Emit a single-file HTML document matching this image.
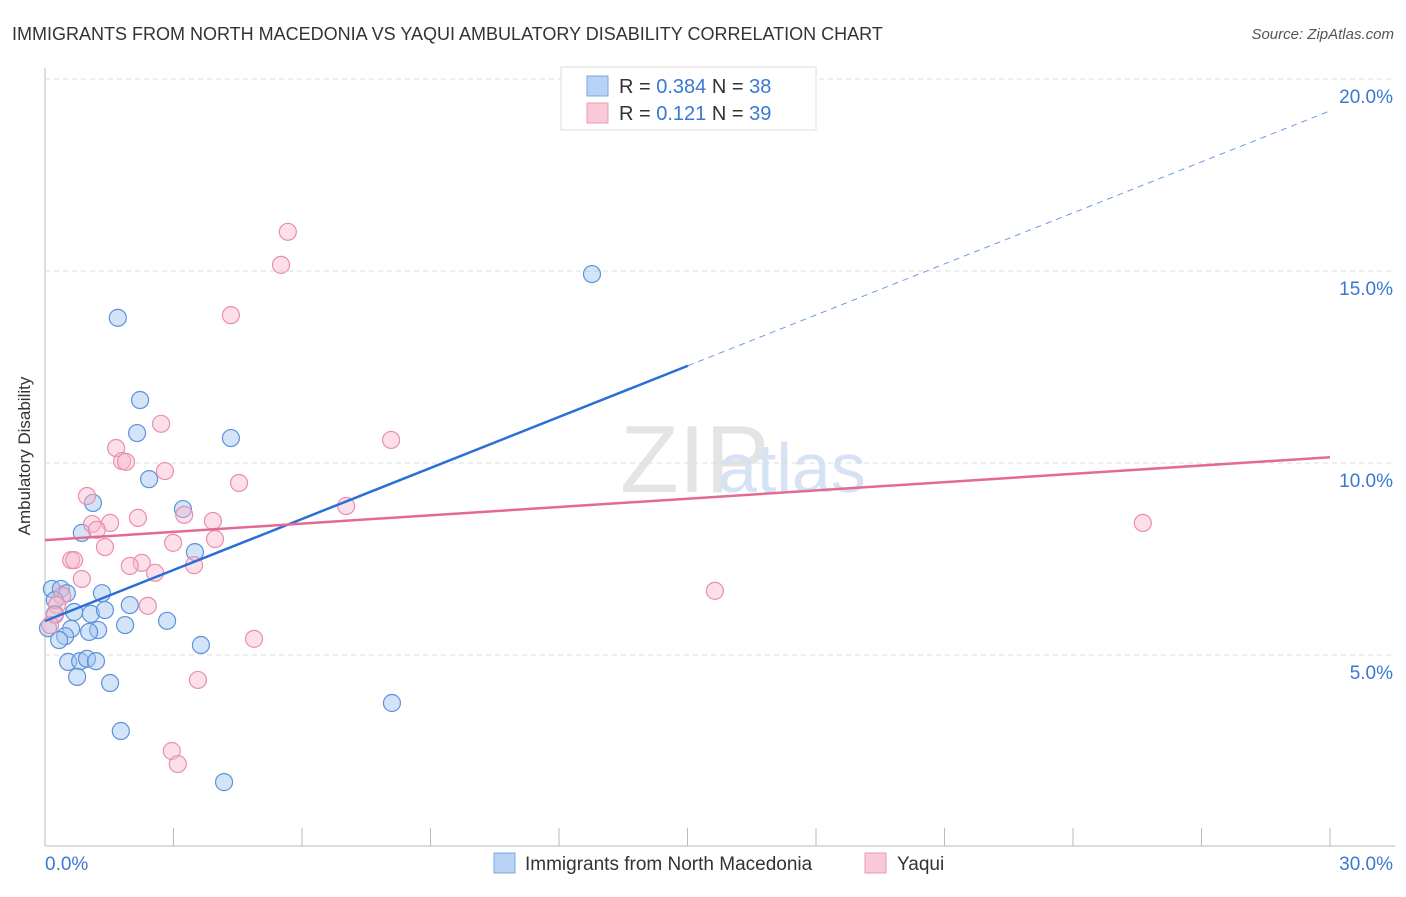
<!DOCTYPE html>
<html><head><meta charset="utf-8"><style>
body{margin:0;background:#fff;font-family:"Liberation Sans",sans-serif;}
svg text{font-family:"Liberation Sans",sans-serif;}
</style></head><body>
<svg id="chart" width="1406" height="892">
<text x="12" y="40" font-size="18" fill="#333">IMMIGRANTS FROM NORTH MACEDONIA VS YAQUI AMBULATORY DISABILITY CORRELATION CHART</text>
<text x="1394" y="39" font-size="15" fill="#555" font-style="italic" text-anchor="end">Source: ZipAtlas.com</text>
<text x="30" y="456" font-size="17" fill="#333" text-anchor="middle" transform="rotate(-90 30 456)">Ambulatory Disability</text>
<text x="620" y="492" font-size="96" fill="#e4e4e4" font-family="Liberation Serif">ZIP</text>
<text x="718" y="492" font-size="70" fill="#d6e3f4">atlas</text>
<g id="grid"></g><g id="pts"></g><g id="lines"></g>
<g>
<rect x="561" y="67" width="255" height="63" fill="#fff" stroke="#ddd"/>
<rect x="587" y="76" width="21" height="20" fill="#b8d3f5" stroke="#7aa7e0"/>
<rect x="587" y="103" width="21" height="20" fill="#f9c9d8" stroke="#eb9ab4"/>
<text x="619" y="93" font-size="20" fill="#333">R = <tspan fill="#3a78d4">0.384</tspan>   N = <tspan fill="#3a78d4">38</tspan></text>
<text x="619" y="120" font-size="20" fill="#333">R =   <tspan fill="#3a78d4">0.121</tspan>   N = <tspan fill="#3a78d4">39</tspan></text>
</g>
<g>
<rect x="494" y="853" width="21" height="20" fill="#b8d3f5" stroke="#7aa7e0"/>
<text x="525" y="870" font-size="19" fill="#333">Immigrants from North Macedonia</text>
<rect x="865" y="853" width="21" height="20" fill="#f9c9d8" stroke="#eb9ab4"/>
<text x="897" y="870" font-size="19" fill="#333">Yaqui</text>
</g>
</svg>
<script>
const blueX=[12.77,1.70,2.22,2.15,4.34,2.43,3.22,1.12,0.86,3.50,0.16,0.37,0.51,1.33,0.23,0.68,1.07,1.40,1.98,1.87,2.85,0.07,0.61,1.24,1.03,0.47,0.33,3.64,0.54,0.82,0.98,1.19,0.75,1.52,8.10,1.77,4.18,0.23];
const blueY=[14.92,13.78,11.64,10.78,10.65,9.58,8.80,8.96,8.18,7.68,6.72,6.72,6.61,6.61,6.07,6.12,6.07,6.17,6.30,5.78,5.89,5.70,5.68,5.65,5.60,5.49,5.39,5.26,4.82,4.84,4.90,4.84,4.43,4.27,3.75,3.02,1.69,6.43];
const pinkX=[5.67,5.51,4.34,2.71,8.08,1.66,1.80,1.89,2.80,4.53,0.98,7.03,3.25,2.17,1.52,1.10,1.21,3.92,1.40,2.99,3.97,0.61,0.68,2.26,1.98,3.48,2.57,0.86,25.63,15.64,0.40,0.28,0.23,2.40,4.88,3.57,2.96,3.10,0.12];
const pinkY=[16.02,15.16,13.85,11.02,10.60,10.39,10.05,10.03,9.79,9.48,9.14,8.88,8.65,8.57,8.44,8.41,8.26,8.49,7.81,7.92,8.02,7.47,7.47,7.40,7.32,7.34,7.14,6.98,8.44,6.67,6.54,6.30,6.04,6.28,5.42,4.35,2.50,2.16,5.78];
const yTicks=[5,10,15,20];
const xTickLabels=["0.0%","30.0%"];
const blueTrend=[5.885,19.17];
const blueSolidEnd=15.01;
const pinkTrend=[7.99,10.15];
const NS="http://www.w3.org/2000/svg";
const sx=v=>45+v/30*1285, sy=v=>847-v*38.4;
function mk(t,a,p){const e=document.createElementNS(NS,t);for(const k in a)e.setAttribute(k,a[k]);p.appendChild(e);return e;}
const grid=document.getElementById('grid'),pts=document.getElementById('pts'),lines=document.getElementById('lines');
let ax=mk('line',{x1:45,y1:68,x2:45,y2:846,stroke:'#bbb'},grid);


let bx=mk('line',{x1:45,y1:846,x2:1395,y2:846,stroke:'#bbb'},grid);


for(let i=1;i<=10;i++){const x=45+i*128.5;const t=mk('line',{x1:x,y1:828,x2:x,y2:846,stroke:'#bbb'},grid);

}
yTicks.forEach(v=>{const g=mk('line',{x1:45,y1:sy(v),x2:1395,y2:sy(v),stroke:'#ddd','stroke-dasharray':'5,4'},grid);


const t=mk('text',{x:1393,y:sy(v)+24,'font-size':19,fill:'#3a78d4','text-anchor':'end'},grid);t.textContent=v.toFixed(1)+'%';

});
[[0,45,'start'],[1,1393,'end']].forEach(([i,x,a])=>{const t=mk('text',{x:x,y:870,'font-size':19,fill:'#3a78d4','text-anchor':a},grid);t.textContent=xTickLabels[i];

});
blueX.forEach((x,i)=>{const c=mk('circle',{cx:sx(x),cy:sy(blueY[i]),r:8.5,fill:'rgba(160,196,240,0.45)',stroke:'#5d92da','stroke-width':1.2},pts);

});
pinkX.forEach((x,i)=>{const c=mk('circle',{cx:sx(x),cy:sy(pinkY[i]),r:8.5,fill:'rgba(248,184,204,0.45)',stroke:'#e890ad','stroke-width':1.2},pts);

});
const by=x=>blueTrend[0]+(blueTrend[1]-blueTrend[0])*x/30;
let l1=mk('line',{x1:sx(0),y1:sy(by(0)),x2:sx(blueSolidEnd),y2:sy(by(blueSolidEnd)),stroke:'#2a6fd6','stroke-width':2.5},lines);


let l2=mk('line',{x1:sx(blueSolidEnd),y1:sy(by(blueSolidEnd)),x2:sx(30),y2:sy(by(30)),stroke:'#6a9be0','stroke-width':1,'stroke-dasharray':'6,5'},lines);


let l3=mk('line',{x1:sx(0),y1:sy(pinkTrend[0]),x2:sx(30),y2:sy(pinkTrend[1]),stroke:'#e36a93','stroke-width':2.5},lines);


</script>
</body></html>
